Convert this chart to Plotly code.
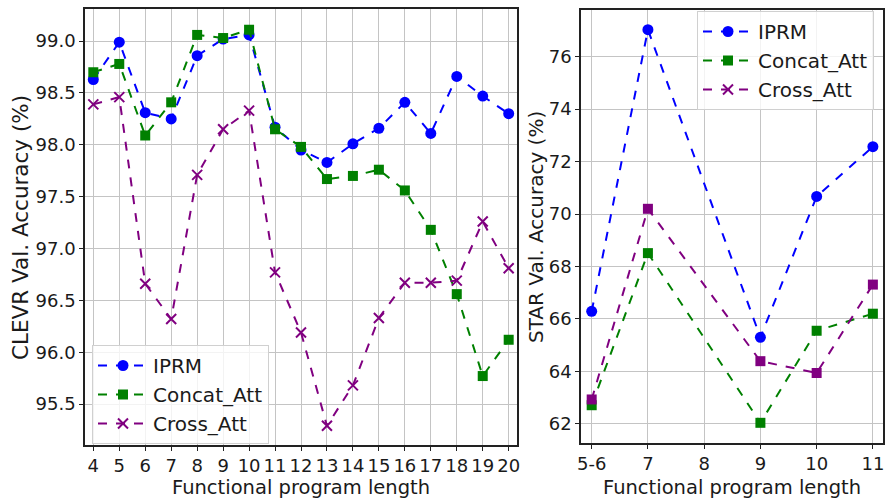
import plotly.graph_objects as go

# ---- Data ----
clevr_len = [4, 5, 6, 7, 8, 9, 10, 11, 12, 13, 14, 15, 16, 17, 18, 19, 20]
clevr_iprm = [98.63, 98.99, 98.31, 98.25, 98.86, 99.02, 99.06, 98.17, 97.95, 97.83,
              98.01, 98.16, 98.41, 98.11, 98.66, 98.47, 98.30]
clevr_concat = [98.70, 98.78, 98.09, 98.41, 99.06, 99.03, 99.11, 98.15, 97.98, 97.67,
                97.70, 97.76, 97.56, 97.18, 96.56, 95.77, 96.12]
clevr_cross = [98.39, 98.46, 96.66, 96.32, 97.71, 98.15, 98.33, 96.77, 96.19, 95.29,
               95.68, 96.33, 96.67, 96.67, 96.69, 97.26, 96.81]

star_pos = [6, 7, 9, 10, 11]
star_tick_pos = [6, 7, 8, 9, 10, 11]
star_tick_labels = ["5-6", "7", "8", "9", "10", "11"]
star_iprm = [66.29, 77.03, 65.30, 70.67, 72.57]
star_concat = [62.71, 68.51, 62.04, 65.55, 66.20]
star_cross = [62.93, 70.20, 64.39, 63.94, 67.31]

names = ["IPRM", "Concat_Att", "Cross_Att"]
colors = ["#0000ff", "#008000", "#800080"]
x_title = "Functional program length"
y_title_left = "CLEVR Val. Accuracy (%)"
y_title_right = "STAR Val. Accuracy (%)"

FONT = "DejaVu Sans"
TXT = "#1a1a1a"
fig = go.Figure()

def marker_for(sym, color):
    if sym == "x":
        return dict(symbol="x-thin", size=10, color=color, line=dict(width=2, color=color))
    if sym == "square":
        return dict(symbol="square", size=10, color=color)
    return dict(symbol="circle", size=11, color=color)

left_syms = ["circle", "square", "x"]
for ys, nm, col, sym in zip([clevr_iprm, clevr_concat, clevr_cross], names, colors, left_syms):
    fig.add_trace(go.Scatter(x=clevr_len, y=ys, name=nm, mode="lines+markers",
                             line=dict(color=col, dash="dash", width=2),
                             marker=marker_for(sym, col),
                             xaxis="x", yaxis="y", legend="legend"))

right_syms = ["circle", "square", "square"]
for ys, nm, col, sym, lsym in zip([star_iprm, star_concat, star_cross], names, colors,
                                   right_syms, left_syms):
    same = sym == lsym
    fig.add_trace(go.Scatter(x=star_pos, y=ys, name=nm, mode="lines+markers",
                             line=dict(color=col, dash="dash", width=2),
                             marker=marker_for(sym, col), showlegend=same,
                             xaxis="x2", yaxis="y2", legend="legend2"))
    if not same:
        fig.add_trace(go.Scatter(x=[None], y=[None], name=nm, mode="lines+markers",
                                 line=dict(color=col, dash="dash", width=2),
                                 marker=marker_for(lsym, col), showlegend=True,
                                 xaxis="x2", yaxis="y2", legend="legend2"))

axis_common = dict(showline=True, linecolor="#222", linewidth=1.5, mirror=True,
                   showgrid=True, gridcolor="#c4c4c4", gridwidth=1,
                   ticks="outside", ticklen=4, tickcolor="#222",
                   tickfont=dict(family=FONT, size=18, color=TXT),
                   zeroline=False, automargin=False)

legend_common = dict(font=dict(family=FONT, size=20, color=TXT),
                     bgcolor="rgba(255,255,255,0.8)", bordercolor="#d0d0d0", borderwidth=1,
                     xanchor="left", yanchor="top", itemwidth=50, tracegroupgap=0)

title_font = dict(family=FONT, size=19.5, color=TXT)
ytitle_right_font = dict(family=FONT, size=20, color=TXT)
left_ytitle_font = dict(family=FONT, size=21.5, color=TXT)

fig.update_layout(
    width=886, height=500,
    margin=dict(l=0, r=0, t=0, b=0, autoexpand=False),
    paper_bgcolor="white", plot_bgcolor="white",
    font=dict(family=FONT, color=TXT),
    xaxis=dict(domain=[85/886, 517/886], range=[3.68, 20.32], tickmode="array",
               tickvals=clevr_len, ticktext=[str(v) for v in clevr_len], tickangle=0,
               anchor="y", **axis_common),
    yaxis=dict(domain=[1-445/500, 1-9/500], range=[95.105, 99.31], dtick=0.5, tickformat=".1f",
               anchor="x", **axis_common),
    xaxis2=dict(domain=[581/886, 883/886], range=[5.81, 11.18], tickmode="array",
                tickvals=star_tick_pos, ticktext=star_tick_labels, tickangle=0,
                anchor="y2", **axis_common),
    yaxis2=dict(domain=[1-443/500, 1-10/500], range=[61.27, 77.78], dtick=2,
                anchor="x2", **axis_common),
    legend=dict(x=92/886, y=1-345/500, **legend_common),
    legend2=dict(x=697/886, y=1-11/500, **legend_common),
    annotations=[
        dict(text=x_title, xref="paper", yref="paper", x=301/886, y=0,
             xanchor="center", yanchor="bottom", borderpad=0, showarrow=False, font=title_font),
        dict(text=x_title, xref="paper", yref="paper", x=732/886, y=0,
             xanchor="center", yanchor="bottom", borderpad=0, showarrow=False, font=title_font),
        dict(text=y_title_left, xref="paper", yref="paper", x=21/886, y=1-228/500,
             xanchor="center", yanchor="middle", textangle=-90, showarrow=False,
             font=left_ytitle_font),
        dict(text=y_title_right, xref="paper", yref="paper", x=536/886, y=1-227/500,
             xanchor="center", yanchor="middle", textangle=-90, showarrow=False,
             font=ytitle_right_font),
    ],
)

fig.write_html("out.html", config={"displayModeBar": False},
               post_script="document.body.style.margin='0';document.body.style.overflow='hidden';")
